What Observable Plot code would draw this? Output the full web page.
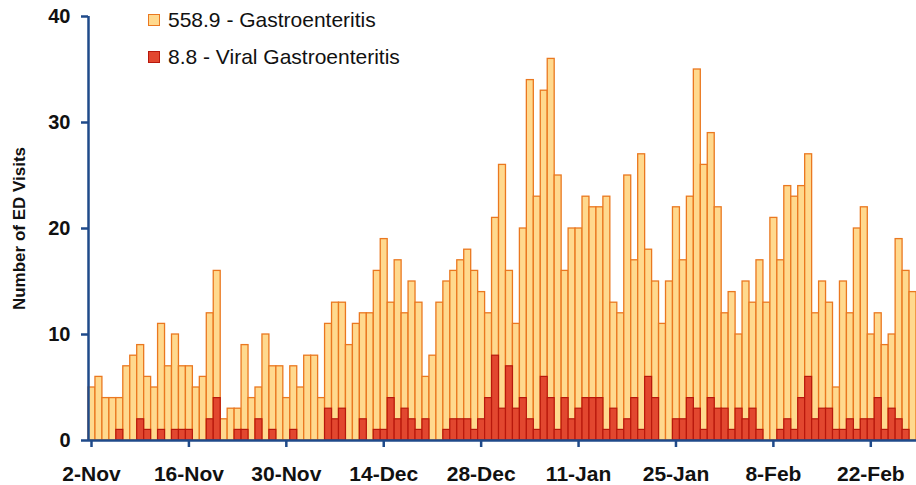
<!DOCTYPE html>
<html><head><meta charset="utf-8">
<script src="https://cdn.jsdelivr.net/npm/d3@7"></script>
<script src="https://cdn.jsdelivr.net/npm/@observablehq/plot@0.6"></script>
<style>
body{margin:0;background:#fff;}
#wrap{position:relative;width:916px;height:485px;font-family:"Liberation Sans",Arial,sans-serif;}
.lg{position:absolute;left:148px;display:flex;align-items:center;font-size:21px;line-height:21px;color:#111;white-space:nowrap;}
.sw{width:10px;height:10px;margin-right:8px;border:1px solid;}
</style></head>
<body><div id="wrap"></div>
<script>
// Day-by-day ED visits starting 2-Nov (total bar height, and viral part)
const totalVisits = [5,6,4,4,4,7,8,9,6,5,11,7,10,7,7,5,6,12,16,2,3,3,9,4,5,10,7,7,4,7,5,8,8,4,11,13,13,9,11,12,12,16,19,13,17,12,15,13,6,8,13,15,16,17,18,16,14,12,21,26,16,11,20,34,23,33,36,25,16,20,20,23,22,22,23,13,12,25,17,27,18,15,11,15,22,17,23,35,26,29,22,12,14,10,15,13,17,13,21,17,24,23,24,27,12,15,13,5,15,12,20,22,10,12,9,10,19,16,14];
const viralVisits = [0,0,0,0,1,0,0,2,1,0,1,0,1,1,1,0,0,2,4,0,0,1,1,0,2,0,1,0,0,1,0,0,0,0,3,2,3,0,0,2,0,1,1,4,2,3,2,1,2,0,0,1,2,2,2,1,2,4,8,3,7,3,4,2,1,6,4,1,4,2,3,4,4,4,1,3,1,2,4,1,6,4,0,0,2,2,4,3,1,4,3,3,1,3,2,3,1,0,0,1,2,1,4,6,2,3,3,1,1,2,1,2,2,4,1,3,2,1,0];
const tickLabels = ["2-Nov","16-Nov","30-Nov","14-Dec","28-Dec","11-Jan","25-Jan","8-Feb","22-Feb"];
const yTicks = [0,10,20,30,40];
const seriesNames = ["558.9 - Gastroenteritis","8.8 - Viral Gastroenteritis"];
const yTitle = "Number of ED Visits";

const day0 = new Date(Date.UTC(2010,10,2));
const data = totalVisits.map((t,i)=>({date:d3.utcDay.offset(day0,i), next:d3.utcDay.offset(day0,i+1), total:t, viral:viralVisits[i]}));
const tickDates = tickLabels.map((_,k)=>d3.utcDay.offset(day0,14*k));
const axisColor = "#1F4A8A";
const yellow = "#FFD98E", orange = "#EA7820", red = "#E2472F", darkRed = "#B8180C";

const chart = Plot.plot({
  width:916, height:485,
  marginLeft:88, marginRight:0, marginTop:16, marginBottom:45,
  style:{fontFamily:'"Liberation Sans",Arial,sans-serif', background:"white", overflow:"visible"},
  x:{type:"utc", domain:[day0, d3.utcDay.offset(day0,totalVisits.length)]},
  y:{domain:[0,40]},
  marks:[
    Plot.rectY(data,{x1:"date", x2:"next", y1:0, y2:"total", fill:yellow, stroke:orange, strokeWidth:1.3}),
    Plot.rectY(data.filter(d=>d.viral>0),{x1:"date", x2:"next", y1:0, y2:"viral", fill:red, stroke:darkRed, strokeWidth:1.2}),
    Plot.axisY({ticks:yTicks, tickSize:7, tickPadding:11, fontSize:20, fontWeight:"bold", stroke:axisColor, strokeWidth:2.5, fill:"#111", label:null}),
    Plot.axisX({ticks:tickDates, tickFormat:d=>tickLabels[tickDates.findIndex(t=>+t===+d)], tickSize:7, tickPadding:19, dx:3, fontSize:21, fontWeight:"bold", stroke:axisColor, strokeWidth:2.5, fill:"#111", label:null}),
    Plot.ruleX([day0],{stroke:axisColor, strokeWidth:2.5}),
    Plot.ruleY([0],{stroke:axisColor, strokeWidth:2.5}),
    Plot.text([yTitle],{frameAnchor:"left", rotate:-90, dx:-69, fontSize:17, fontWeight:"bold", fill:"#111", textAnchor:"middle", lineAnchor:"middle"})
  ]
});
const wrap = document.getElementById("wrap");
wrap.appendChild(chart);
const sw = [[yellow,orange],[red,darkRed]];
seriesNames.forEach((name,i)=>{
  const row = document.createElement("div");
  row.className="lg";
  row.style.top = (i===0?9:46)+"px";
  const s = document.createElement("span");
  s.className="sw"; s.style.background=sw[i][0]; s.style.borderColor=sw[i][1];
  row.appendChild(s);
  row.appendChild(document.createTextNode(name));
  wrap.appendChild(row);
});
</script>
</body></html>
